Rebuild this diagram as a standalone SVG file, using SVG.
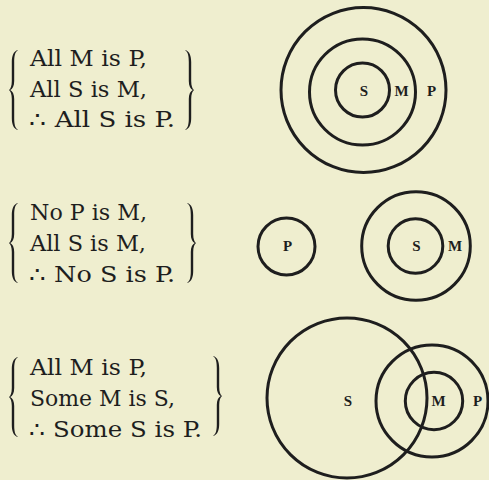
<svg xmlns="http://www.w3.org/2000/svg" xmlns:xlink="http://www.w3.org/1999/xlink" width="489" height="480" viewBox="0 0 489 480">
  <style>
    .bg { fill: #efeecf; }
    .ring { fill: none; stroke: #1e1e1e; stroke-width: 3; }
    .line { font-family: "DejaVu Serif", "Liberation Serif", serif; font-size: 22.5px; fill: #1e1e1e; }
    .lbl { font-family: "Liberation Serif", "DejaVu Serif", serif; font-size: 15px; font-weight: bold; fill: #1e1e1e; text-anchor: middle; }
    .brace { fill: #1e1e1e; }
  </style>
  <defs>
    <path id="brace" class="brace" d="M 8.5 0 C 4.5 1.5, 2.8 6, 2.8 12 L 2.8 31 C 2.8 36, 1.5 39, 0 40 C 1.5 41, 2.8 44, 2.8 49 L 2.8 68 C 2.8 74, 4.5 78.5, 8.5 80 L 8.5 79.3 C 6 78, 5.2 74, 5.2 68 L 5.2 49 C 5.2 44, 3.5 41, 1.2 40 C 3.5 39, 5.2 36, 5.2 31 L 5.2 12 C 5.2 6, 6 2, 8.5 0.7 Z"/>
  </defs>
  <rect class="bg" x="0" y="0" width="489" height="480"/>

  <!-- Syllogism 1 -->
  <g id="syllogism1">
    <use xlink:href="#brace" href="#brace" transform="translate(9,50)"/>
    <use xlink:href="#brace" href="#brace" transform="translate(194,50) scale(-1,1)"/>
    <text class="line" x="30" y="66" textLength="117" lengthAdjust="spacingAndGlyphs">All M is P,</text>
    <text class="line" x="30" y="97" textLength="117" lengthAdjust="spacingAndGlyphs">All S is M,</text>
    <text class="line" x="29" y="127" textLength="146" lengthAdjust="spacingAndGlyphs">∴ All S is P.</text>
  </g>
  <g id="diagram1">
    <circle class="ring" cx="363.5" cy="90" r="82.5"/>
    <circle class="ring" cx="362.5" cy="92" r="53"/>
    <circle class="ring" cx="362.5" cy="90" r="27"/>
    <text class="lbl" x="364" y="96">S</text>
    <text class="lbl" x="401.5" y="96">M</text>
    <text class="lbl" x="431.5" y="96">P</text>
  </g>

  <!-- Syllogism 2 -->
  <g id="syllogism2">
    <use xlink:href="#brace" href="#brace" transform="translate(9,203)"/>
    <use xlink:href="#brace" href="#brace" transform="translate(196,203) scale(-1,1)"/>
    <text class="line" x="30" y="220" textLength="117" lengthAdjust="spacingAndGlyphs">No P is M,</text>
    <text class="line" x="30" y="251" textLength="116" lengthAdjust="spacingAndGlyphs">All S is M,</text>
    <text class="line" x="29" y="282" textLength="146" lengthAdjust="spacingAndGlyphs">∴ No S is P.</text>
  </g>
  <g id="diagram2">
    <circle class="ring" cx="286.5" cy="246.5" r="28.5"/>
    <circle class="ring" cx="416" cy="246" r="54.3"/>
    <circle class="ring" cx="415.5" cy="246" r="27.3"/>
    <text class="lbl" x="287.5" y="251">P</text>
    <text class="lbl" x="416.5" y="251">S</text>
    <text class="lbl" x="455" y="251">M</text>
  </g>

  <!-- Syllogism 3 -->
  <g id="syllogism3">
    <use xlink:href="#brace" href="#brace" transform="translate(9,357)"/>
    <use xlink:href="#brace" href="#brace" transform="translate(222,356) scale(-1,1)"/>
    <text class="line" x="30" y="375" textLength="117" lengthAdjust="spacingAndGlyphs">All M is P,</text>
    <text class="line" x="30" y="406" textLength="145" lengthAdjust="spacingAndGlyphs">Some M is S,</text>
    <text class="line" x="29" y="437" textLength="173" lengthAdjust="spacingAndGlyphs">∴ Some S is P.</text>
  </g>
  <g id="diagram3">
    <circle class="ring" cx="347" cy="398" r="80"/>
    <circle class="ring" cx="432" cy="401" r="56"/>
    <circle class="ring" cx="434" cy="401" r="28.7"/>
    <text class="lbl" x="348" y="406">S</text>
    <text class="lbl" x="438.5" y="406">M</text>
    <text class="lbl" x="477.5" y="406">P</text>
  </g>

  <g id="connectors"></g>
</svg>
